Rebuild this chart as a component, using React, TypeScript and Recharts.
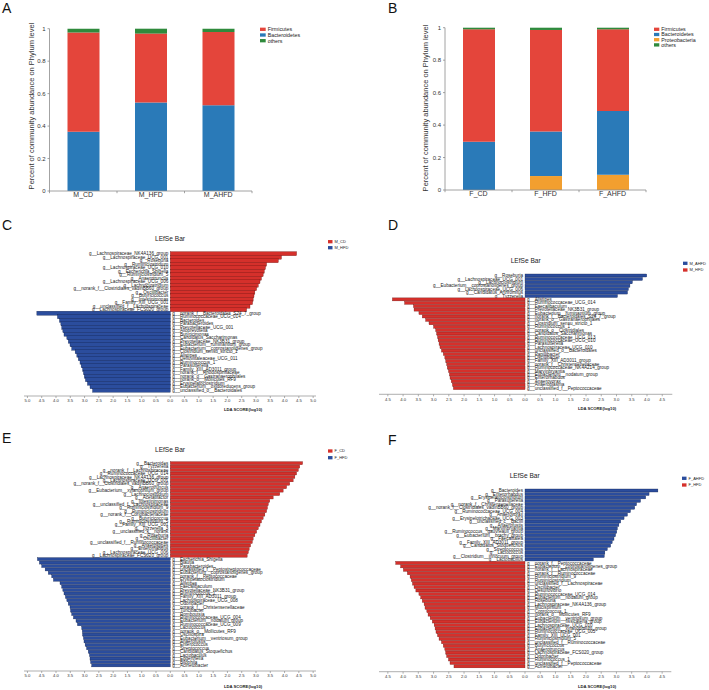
import React from 'react';
import { BarChart, Bar, XAxis, YAxis } from 'recharts';

const FONT = '"Liberation Sans", Arial, Helvetica, sans-serif';

// Phylum level abundance, panel A (male) and B (female)
const maleGroups = ['M_CD', 'M_HFD', 'M_AHFD'];
const maleBacteroidetes = [0.365, 0.546, 0.528];
const maleFirmicutes = [0.612, 0.424, 0.452];
const maleOthers = [0.023, 0.03, 0.02];

const femaleGroups = ['F_CD', 'F_HFD', 'F_AHFD'];
const femaleProteobacteria = [0, 0.086, 0.094];
const femaleBacteroidetes = [0.298, 0.274, 0.393];
const femaleFirmicutes = [0.692, 0.626, 0.503];
const femaleOthers = [0.01, 0.014, 0.01];

const abundanceTicks = [0, 0.2, 0.4, 0.6, 0.8, 1];

// LEfSe, panel C: M_CD (red, right) vs M_HFD (blue, left)
const cCdNames = [
  'g__Lachnospiraceae_NK4A136_group', 'g__Lachnospiraceae_UCG_001', 'g__Roseburia', 'g__Ruminiclostridium',
  'g__Lachnospiraceae_UCG_010', 'g__Escherichia_Shigella', 'g__Ruminiclostridium_5', 'g__Anaerotruncus',
  'g__Lachnospiraceae_UCG_006', 'g__Lachnoclostridium', 'g__norank_f__Clostridiales_vadinBB60_group',
  'g__Oscillibacter', 'g__Butyricicoccus', 'g__Intestinimonas', 'g__Family_XIII_UCG_001',
  'g__unclassified_f__Lachnospiraceae', 'g__Lachnospiraceae_FCS020_group',
];
const cCdLda = [4.42, 3.89, 3.78, 3.37, 3.33, 3.29, 3.25, 3.19, 3.14, 3.08, 3.02, 2.96, 2.93, 2.9, 2.88, 2.79, 2.67];
const cHfdNames = [
  'g__norank_f__Bacteroidales_S24_7_group', 'g__Ruminococcaceae_UCG_014', 'g__Bacteroides', 'g__Parabacteroides',
  'g__Prevotellaceae_UCG_001', 'g__Alloprevotella', 'g__Butyricimonas', 'g__Candidatus_Saccharimonas',
  'g__Prevotellaceae_NK3B31_group', 'g__Eubacterium__ruminantium_group', 'g__Eubacterium__coprostanoligenes_group',
  'g__Clostridium_sensu_stricto_1', 'g__Alistipes', 'g__Defluviitaleaceae_UCG_011', 'g__Ruminococcus_1',
  'g__Parasutterella', 'g__Family_XIII_AD3011_group', 'g__norank_f__Rhodospirillaceae',
  'g__norank_o__Gastranaerophilales', 'g__norank_o__Mollicutes_RF9', 'g__Erysipelatoclostridium',
  'g__Eubacterium__oxidoreducens_group', 'g__unclassified_o__Bacteroidales',
];
const cHfdLda = [4.67, 3.95, 3.88, 3.83, 3.8, 3.76, 3.72, 3.62, 3.57, 3.51, 3.45, 3.33, 3.27, 3.22, 3.16, 3.12, 3.07, 3.04, 3.01, 2.97, 2.9, 2.81, 2.72];

// LEfSe, panel D: M_AHFD (blue, right) vs M_HFD (red, left)
const dAhfdNames = [
  'g__Roseburia', 'g__Lachnospiraceae_UCG_001', 'g__Lachnoclostridium', 'g__Eubacterium__coprostanoligenes_group',
  'g__Lachnospiraceae_UCG_006', 'g__Candidatus_Arthromitus', 'g__Tyzzerella',
];
const dAhfdLda = [3.99, 3.85, 3.52, 3.44, 3.39, 3.36, 3.03];
const dHfdNames = [
  'g__Alistipes', 'g__Ruminococcaceae_UCG_014', 'g__Faecalibaculum', 'g__Prevotellaceae_NK3B31_group',
  'g__Eubacterium__ruminantium_group', 'g__norank_f__Bacteroidales_S24_7_group', 'g__norank_o__Gastranaerophilales',
  'g__Clostridium_sensu_stricto_1', 'g__Ruminococcus_1', 'g__norank_o__Clostridiales', 'g__Candidatus_Saccharimonas',
  'g__Ruminococcaceae_UCG_013', 'g__Ruminococcaceae_UCG_010', 'g__Parasutterella', 'g__Lachnospiraceae_UCG_010',
  'g__unclassified_o__Bacteroidales', 'g__Papillibacter', 'g__Oscillibacter', 'g__Family_XIII_AD3011_group',
  'g__norank_f__Christensenellaceae', 'g__Ruminococcaceae_NK4A214_group', 'g__Marvinbryantia',
  'g__Eubacterium__nodatum_group', 'g__Enterorhabdus', 'g__Anaerovorax', 'g__Anaeroplasma',
  'g__unclassified_f__Peptococcaceae',
];
const dHfdLda = [4.35, 3.95, 3.66, 3.64, 3.48, 3.37, 3.26, 3.15, 3.0, 2.93, 2.9, 2.87, 2.85, 2.82, 2.79, 2.74, 2.68, 2.63, 2.6, 2.57, 2.55, 2.51, 2.48, 2.46, 2.42, 2.38, 2.35];

// LEfSe, panel E: F_CD (red, right) vs F_HFD (blue, left)
const eCdNames = [
  'g__Bacteroides', 'g__Tyzzerella', 'g__norank_f__Lachnospiraceae', 'g__Ruminococcaceae_UCG_014',
  'g__Lachnospiraceae_NK4A136_group', 'g__Lachnospiraceae_UCG_001', 'g__norank_f__Clostridiales_vadinBB60_group',
  'g__Anaerotruncus', 'g__Eubacterium__xylanophilum_group', 'g__Lachnoclostridium', 'g__Acetatifactor',
  'g__Intestinimonas', 'g__unclassified_f__Lachnospiraceae', 'g__Ruminiclostridium_9', 'g__Ruminiclostridium',
  'g__norank_f__Coriobacteriaceae', 'g__Butyricicoccus', 'g__Ruminiclostridium_5', 'g__Family_XIII_UCG_001',
  'g__Tyzzerella_3', 'g__unclassified_k__norank', 'g__Roseburia', 'g__Oscillibacter',
  'g__unclassified_f__Ruminococcaceae', 'g__Anaerostipes', 'g__Enterorhabdus', 'g__Lachnospiraceae_UCG_006',
  'g__Lachnospiraceae_FCS020_group',
];
const eCdLda = [4.63, 4.53, 4.48, 4.42, 4.36, 4.3, 4.18, 4.07, 3.95, 3.83, 3.6, 3.48, 3.43, 3.4, 3.37, 3.31, 3.25, 3.19, 3.14, 3.08, 3.02, 2.96, 2.9, 2.87, 2.81, 2.76, 2.73, 2.69];
const eHfdNames = [
  'g__Escherichia_Shigella', 'g__Blautia', 'g__Parabacteroides', 'g__unclassified_f__Peptostreptococcaceae',
  'g__Eubacterium__coprostanoligenes_group', 'g__norank_f__Peptococcaceae', 'g__Erysipelatoclostridium',
  'g__Alistipes', 'g__Faecalibaculum', 'g__Prevotellaceae_NK3B31_group', 'g__Ruminococcus_1',
  'g__Family_XIII_AD3011_group', 'g__Lachnospiraceae_UCG_008', 'g__Odoribacter', 'g__norank_f__Christensenellaceae',
  'g__Turicibacter', 'g__Romboutsia', 'g__Ruminococcaceae_UCG_004', 'g__Eubacterium__nodatum_group',
  'g__Ruminococcaceae_UCG_009', 'g__Lactococcus', 'g__norank_o__Mollicutes_RF9', 'g__Oscillospira',
  'g__Eubacterium__ventriosum_group', 'g__Anaerofustis', 'g__Enterococcus', 'g__Streptococcus',
  'g__Candidatus_Stoquefichus', 'g__Lactobacillus', 'g__Eggerthella', 'g__Bilophila', 'g__Acinetobacter',
];
const eHfdLda = [4.65, 4.58, 4.5, 4.38, 4.27, 4.15, 4.09, 3.86, 3.8, 3.76, 3.72, 3.67, 3.62, 3.57, 3.51, 3.49, 3.45, 3.39, 3.3, 3.25, 3.1, 3.08, 3.07, 3.04, 3.02, 2.98, 2.93, 2.87, 2.83, 2.81, 2.79, 2.75];

// LEfSe, panel F: F_AHFD (blue, right) vs F_HFD (red, left)
const fAhfdNames = [
  'g__Bacteroides', 'g__Enterorhabdus', 'g__Erysipelatoclostridium', 'g__Parasutterella',
  'g__norank_f__Christensenellaceae', 'g__norank_f__Clostridiales_vadinBB60_group', 'g__Ruminococcaceae_UCG_004',
  'g__Anaerovorax', 'g__Erysipelotrichaceae_UCG_003', 'g__unclassified_c__Bacilli', 'g__Anaerofustis',
  'g__Marvinbryantia', 'g__Ruminococcus__gauvreauii_group', 'g__Eubacterium__brachy_group', 'g__Faecalitalea',
  'g__Family_XIII_AD3011_group', 'g__Candidatus_Stoquefichus', 'g__Streptococcus', 'g__Lactococcus',
  'g__Clostridium__innocuum_group', 'g__Lactobacillus',
];
const fAhfdLda = [4.36, 4.07, 3.96, 3.79, 3.66, 3.6, 3.46, 3.36, 3.25, 3.14, 3.08, 3.03, 3.01, 2.97, 2.92, 2.86, 2.81, 2.7, 2.62, 2.6, 2.24];
const fHfdNames = [
  'g__norank_f__Peptococcaceae', 'g__Eubacterium__coprostanoligenes_group', 'g__norank_f__Lachnospiraceae',
  'g__norank_f__Ruminococcaceae', 'g__Ruminiclostridium_9', 'g__Ruminiclostridium', 'g__unclassified_f__Lachnospiraceae',
  'g__Oscillibacter', 'g__Desulfovibrio', 'g__Ruminococcaceae_UCG_014', 'g__Eubacterium__nodatum_group',
  'g__Roseburia', 'g__Lachnospiraceae_NK4A136_group', 'g__Mucispirillum', 'g__Coprococcus_1',
  'g__norank_o__Mollicutes_RF9', 'g__Eubacterium__ventriosum_group', 'g__Eubacterium__fissicatena_group',
  'g__Lachnospiraceae_UCG_010', 'g__Eubacterium__xylanophilum_group', 'g__Ruminococcaceae_UCG_005',
  'g__Family_XIII_UCG_001', 'g__Ruminiclostridium_5', 'g__unclassified_f__Ruminococcaceae', 'g__Butyricicoccus',
  'g__Anaerotruncus', 'g__Lachnospiraceae_FCS020_group', 'g__Odoribacter', 'g__Ruminococcus_1',
  'g__unclassified_f__Peptococcaceae', 'g__Acinetobacter',
];
const fHfdLda = [4.24, 4.08, 3.99, 3.86, 3.77, 3.73, 3.69, 3.64, 3.58, 3.48, 3.42, 3.37, 3.31, 3.28, 3.22, 3.18, 3.11, 3.04, 2.98, 2.95, 2.92, 2.87, 2.82, 2.74, 2.68, 2.63, 2.6, 2.57, 2.51, 2.46, 2.33];

const ldaTicks5 = [-5, -4.5, -4, -3.5, -3, -2.5, -2, -1.5, -1, -0.5, 0, 0.5, 1, 1.5, 2, 2.5, 3, 3.5, 4, 4.5, 5];
const ldaTicks45 = [-4.5, -4, -3.5, -3, -2.5, -2, -1.5, -1, -0.5, 0, 0.5, 1, 1.5, 2, 2.5, 3, 3.5, 4, 4.5];

const FIRM = '#e4453b';
const BACT = '#2a7ab8';
const PROTEO = '#f29f2f';
const OTHERS = '#2f8a3c';
const LRED = '#d5302b';
const LBLUE = '#2b4d9d';
const AXIS = '#8c8c8c';

const maleData = maleGroups.map((g, i) => ({
  group: g, Bacteroidetes: maleBacteroidetes[i], Firmicutes: maleFirmicutes[i], others: maleOthers[i],
}));
const femaleData = femaleGroups.map((g, i) => ({
  group: g, Proteobacteria: femaleProteobacteria[i], Bacteroidetes: femaleBacteroidetes[i],
  Firmicutes: femaleFirmicutes[i], others: femaleOthers[i],
}));

function PhylumChart({ left, width, data, series, margin, halfBand }: any) {
  const groupTick = (p: any) => {
    const { x, y, payload, index } = p;
    return (
      <g>
        {index === 0 && <line x1={x - halfBand} x2={x - halfBand} y1={y - 1.3} y2={y + 0.9} stroke={AXIS} strokeWidth={0.8} />}
        <line x1={x + halfBand} x2={x + halfBand} y1={y - 1.3} y2={y + 0.9} stroke={AXIS} strokeWidth={0.8} />
        <text x={x} y={y} dy="0.71em" textAnchor="middle" fontSize={7} fill="#333" fontFamily={FONT}>{payload.value}</text>
      </g>
    );
  };
  return (
    <div style={{ position: 'absolute', left, top: 0 }}>
      <BarChart width={width} height={210} data={data} margin={margin} barSize={32}>
        <XAxis dataKey="group" height={12} tickSize={0} tickMargin={1.3} interval={0}
          axisLine={{ stroke: AXIS, strokeWidth: 0.8 }} tickLine={false} tick={groupTick} />
        <YAxis type="number" domain={[0, 1]} ticks={abundanceTicks} width={30} tickSize={2} tickMargin={2}
          axisLine={{ stroke: AXIS, strokeWidth: 0.8 }} tickLine={{ stroke: AXIS, strokeWidth: 0.8 }}
          tick={{ fontSize: 6, fill: '#333', fontFamily: FONT }} />
        {series.map((s: any) => (
          <Bar key={s.key} dataKey={s.key} stackId="a" fill={s.color} isAnimationActive={false} />
        ))}
      </BarChart>
    </div>
  );
}

function LefseChart({ left, top, width, height, margin, domain, ticks, padBottom,
  posNames, posLda, negNames, negLda, posColor, negColor }: any) {
  const data = [
    ...posNames.map((n: string, i: number) => ({ name: n, lda: posLda[i] })),
    ...negNames.map((n: string, i: number) => ({ name: n, lda: -negLda[i] })),
  ];
  const barShape = (p: any) => {
    const x = Number(p.x), y = Number(p.y), w = Number(p.width), h = Number(p.height);
    const x0 = Math.min(x, x + w), x1 = Math.max(x, x + w);
    const pos = p.payload.lda >= 0;
    const zero = pos ? x0 : x1;
    return (
      <g>
        <rect x={x0} y={y} width={x1 - x0} height={h} fill={pos ? posColor : negColor}
          stroke={pos === (posColor === LRED) ? '#6e1512' : '#13234f'} strokeWidth={0.35} />
        <text x={pos ? zero - 2 : zero + 2} y={y + h / 2} dy="0.35em" textAnchor={pos ? 'end' : 'start'}
          fontSize={4.6} fill="#222" fontFamily={FONT}>{p.payload.name}</text>
      </g>
    );
  };
  return (
    <div style={{ position: 'absolute', left, top }}>
      <BarChart width={width} height={height} data={data} layout="vertical" margin={margin} barCategoryGap={0}>
        <XAxis type="number" domain={domain} ticks={ticks} interval={0} allowDataOverflow height={12}
          tickSize={2} tickMargin={1.5} tickFormatter={(v: number) => Math.abs(v).toFixed(1)}
          axisLine={{ stroke: AXIS, strokeWidth: 0.7 }} tickLine={{ stroke: AXIS, strokeWidth: 0.7 }}
          tick={{ fontSize: 4.2, fill: '#333', fontFamily: FONT }} />
        <YAxis type="category" dataKey="name" hide padding={{ top: 0, bottom: padBottom }} />
        <Bar dataKey="lda" isAnimationActive={false} shape={barShape} />
      </BarChart>
    </div>
  );
}

function LegendItems({ x, y0, step, items, fontSize, w, h }: any) {
  return (
    <g>
      {items.map((it: any, i: number) => (
        <g key={it.label}>
          <rect x={x} y={y0 + i * step - h / 2} width={w} height={h} fill={it.color} />
          <text x={x + w + 2} y={y0 + i * step + fontSize * 0.36} fontSize={fontSize} fill="#222">{it.label}</text>
        </g>
      ))}
    </g>
  );
}

export default function App() {
  const yTitle = 'Percent of community abundance on Phylum level';
  return (
    <div style={{ position: 'absolute', left: 0, top: 0, width: 709, height: 690, background: '#fff', fontFamily: FONT }}>
      <PhylumChart left={0} width={354} data={maleData} halfBand={33.75}
        margin={{ top: 28.7, left: 19.5, right: 102, bottom: 7 }}
        series={[{ key: 'Bacteroidetes', color: BACT }, { key: 'Firmicutes', color: FIRM }, { key: 'others', color: OTHERS }]} />
      <PhylumChart left={354} width={355} data={femaleData} halfBand={33.5}
        margin={{ top: 27.7, left: 61, right: 63, bottom: 8 }}
        series={[{ key: 'Proteobacteria', color: PROTEO }, { key: 'Bacteroidetes', color: BACT },
          { key: 'Firmicutes', color: FIRM }, { key: 'others', color: OTHERS }]} />

      <LefseChart left={0} top={230} width={354} height={190} margin={{ top: 21.7, left: 24, right: 38, bottom: 12 }}
        domain={[-5.12, 5.1]} ticks={ldaTicks5} padBottom={4.3}
        posNames={cCdNames} posLda={cCdLda} negNames={cHfdNames} negLda={cHfdLda} posColor={LRED} negColor={LBLUE} />
      <LefseChart left={354} top={230} width={355} height={190} margin={{ top: 44, left: 25, right: 36.7, bottom: 13.7 }}
        domain={[-4.79, 4.83]} ticks={ldaTicks45} padBottom={4.3}
        posNames={dAhfdNames} posLda={dAhfdLda} negNames={dHfdNames} negLda={dHfdLda} posColor={LBLUE} negColor={LRED} />
      <LefseChart left={0} top={440} width={354} height={250} margin={{ top: 21.7, left: 24, right: 38, bottom: 7 }}
        domain={[-5.12, 5.1]} ticks={ldaTicks5} padBottom={3.7}
        posNames={eCdNames} posLda={eCdLda} negNames={eHfdNames} negLda={eHfdLda} posColor={LRED} negColor={LBLUE} />
      <LefseChart left={354} top={440} width={355} height={250} margin={{ top: 49, left: 25, right: 37.7, bottom: 6.3 }}
        domain={[-4.79, 4.8]} ticks={ldaTicks45} padBottom={3.4}
        posNames={fAhfdNames} posLda={fAhfdLda} negNames={fHfdNames} negLda={fHfdLda} posColor={LBLUE} negColor={LRED} />

      <svg width={709} height={690} style={{ position: 'absolute', left: 0, top: 0, pointerEvents: 'none' }} fontFamily={FONT}>
        <g fontSize={14} fill="#111">
          <text x={2} y={13.3}>A</text>
          <text x={388} y={13.3}>B</text>
          <text x={2} y={230}>C</text>
          <text x={388} y={230}>D</text>
          <text x={2} y={443.3}>E</text>
          <text x={388} y={445}>F</text>
        </g>

        <text transform="translate(34.3,106) rotate(-90)" textAnchor="middle" fontSize={7.5} fill="#333">{yTitle}</text>
        <text transform="translate(428.3,108) rotate(-90)" textAnchor="middle" fontSize={7.5} fill="#333">{yTitle}</text>

        <LegendItems x={260} y0={29.3} step={5.7} fontSize={5.3} w={5.7} h={3.3}
          items={[{ label: 'Firmicutes', color: FIRM }, { label: 'Bacteroidetes', color: BACT }, { label: 'others', color: OTHERS }]} />
        <LegendItems x={654} y0={29.3} step={5.2} fontSize={5.3} w={5.3} h={3.3}
          items={[{ label: 'Firmicutes', color: FIRM }, { label: 'Bacteroidetes', color: BACT },
            { label: 'Proteobacteria', color: PROTEO }, { label: 'others', color: OTHERS }]} />

        <g fontSize={6.6} fill="#222" textAnchor="middle">
          <text x={170} y={241.2}>LEfSe Bar</text>
          <text x={525.7} y={262.5}>LEfSe Bar</text>
          <text x={170} y={451.8}>LEfSe Bar</text>
          <text x={524.7} y={477.5}>LEfSe Bar</text>
        </g>
        <g fontSize={4.2} fontWeight="bold" fill="#222" textAnchor="middle">
          <text x={243} y={410.8}>LDA SCORE(log10)</text>
          <text x={597} y={409.8}>LDA SCORE(log10)</text>
          <text x={243} y={687.5}>LDA SCORE(log10)</text>
          <text x={597} y={687.5}>LDA SCORE(log10)</text>
        </g>

        <LegendItems x={328} y0={241.7} step={6} fontSize={4} w={4.5} h={3.3}
          items={[{ label: 'M_CD', color: LRED }, { label: 'M_HFD', color: LBLUE }]} />
        <LegendItems x={683} y0={263.3} step={6.7} fontSize={4} w={4.5} h={3.3}
          items={[{ label: 'M_AHFD', color: LBLUE }, { label: 'M_HFD', color: LRED }]} />
        <LegendItems x={328} y0={451} step={6.7} fontSize={4} w={4.5} h={3.3}
          items={[{ label: 'F_CD', color: LRED }, { label: 'F_HFD', color: LBLUE }]} />
        <LegendItems x={682} y0={478.3} step={6.7} fontSize={4} w={4.5} h={3.3}
          items={[{ label: 'F_AHFD', color: LBLUE }, { label: 'F_HFD', color: LRED }]} />
      </svg>
    </div>
  );
}
